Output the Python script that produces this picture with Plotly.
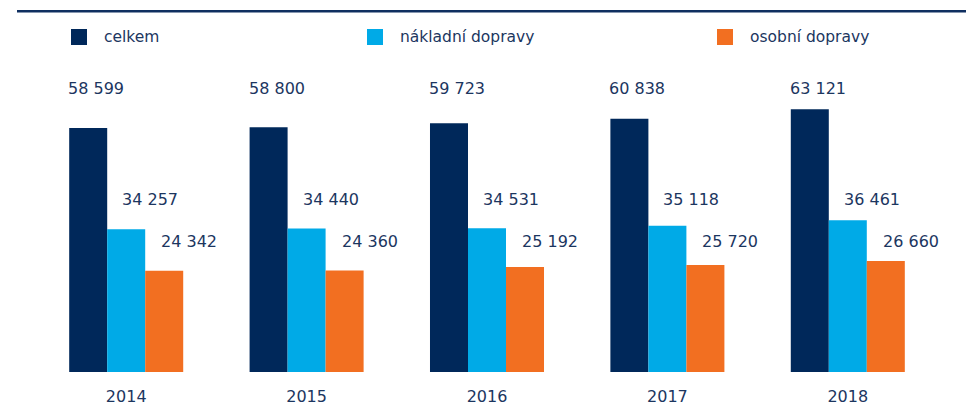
import plotly.graph_objects as go

years = ["2014", "2015", "2016", "2017", "2018"]
series_names = ["celkem", "nákladní dopravy", "osobní dopravy"]
celkem = [58599, 58800, 59723, 60838, 63121]
nakladni = [34257, 34440, 34531, 35118, 36461]
osobni = [24342, 24360, 25192, 25720, 26660]
colors = ["#00285a", "#00aae7", "#f26f21"]
text_color = "#1c365f"
FONT = "DejaVu Sans"

W, H = 966, 413
ML, MR, MT, MB = 36, 28, 80, 41
PW, PH = W - ML - MR, H - MT - MB


def paper_x(px):
    return (px - ML) / PW


def paper_y(py):
    return (H - MB - py) / PH


def fmt(v):
    return f"{v:,}".replace(",", " ")


fig = go.Figure()
values = [celkem, nakladni, osobni]
for name, vals, color in zip(series_names, values, colors):
    fig.add_trace(go.Bar(x=years, y=vals, name=name, marker=dict(color=color, line=dict(width=0)),
                         showlegend=False, hoverinfo="x+y+name"))

# value labels: fixed row per series, shifted relative to the group centre
# (category axis -> annotation x given as category index, numeric-looking strings would be read as indices)
label_rows = [88, 199, 241]
label_shift = [-60, -6, 33]
annotations = []
for vals, row, shift in zip(values, label_rows, label_shift):
    for i, v in enumerate(vals):
        annotations.append(dict(x=i, xref="x", y=paper_y(row), yref="paper", text=fmt(v),
                                xanchor="left", yanchor="middle", xshift=shift, showarrow=False,
                                font=dict(family=FONT, size=16, color=text_color)))

# hand-drawn legend
legend_square_x = [71, 367, 717]
shapes = [dict(type="line", xref="paper", yref="paper", x0=paper_x(17), x1=paper_x(966),
               y0=paper_y(11.3), y1=paper_y(11.3), line=dict(color="#0f2f60", width=2.5))]
for name, color, sx in zip(series_names, colors, legend_square_x):
    shapes.append(dict(type="rect", xref="paper", yref="paper", x0=paper_x(sx), x1=paper_x(sx + 16),
                       y0=paper_y(45), y1=paper_y(29), fillcolor=color, line=dict(width=0)))
    annotations.append(dict(x=paper_x(sx + 31), xref="paper", y=paper_y(37.5), yref="paper", text=name,
                            xanchor="left", yanchor="middle", showarrow=False,
                            font=dict(family=FONT, size=15.5, color=text_color)))

fig.update_layout(
    width=W, height=H, margin=dict(l=ML, r=MR, t=MT, b=MB),
    barmode="group", bargap=0.368, bargroupgap=0,
    plot_bgcolor="white", paper_bgcolor="white",
    xaxis=dict(type="category", range=[-0.5, 4.5], showgrid=False, zeroline=False, showline=False,
               ticks="outside", ticklen=10, tickcolor="rgba(0,0,0,0)", automargin=False,
               tickfont=dict(family=FONT, size=16, color=text_color)),
    yaxis=dict(range=[0, 70125], visible=False, showgrid=False, zeroline=False, automargin=False),
    shapes=shapes, annotations=annotations,
)

fig.write_html("out.html", config={"displayModeBar": False},
               post_script="document.body.style.margin='0';")
